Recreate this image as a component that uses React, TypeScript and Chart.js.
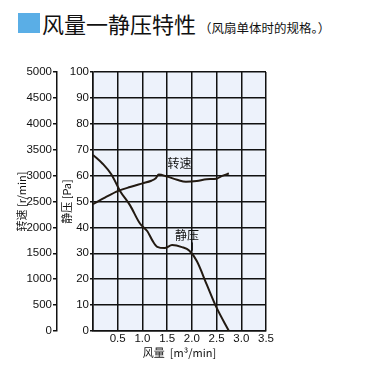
import React, { useEffect, useRef } from "react";
import { Chart, registerables } from "chart.js";

Chart.register(...registerables);

const pressureFlow = [0, 0.2, 0.37, 0.55, 0.75, 0.95, 1.1, 1.2, 1.3, 1.45, 1.6, 1.8, 1.95, 2.1, 2.3, 2.5, 2.75];
const pressurePa = [68, 64.5, 60.5, 54, 48.5, 41.5, 38.5, 35, 32.5, 32, 33.2, 32.4, 31, 27, 18, 9, 0];

const speedFlow = [0, 0.25, 0.5, 0.75, 1.0, 1.18, 1.27, 1.33, 1.5, 1.7, 1.88, 2.1, 2.3, 2.5, 2.6, 2.75];
const speedRpm = [2450, 2580, 2700, 2780, 2850, 2900, 2950, 3020, 2980, 2920, 2880, 2895, 2930, 2940, 2990, 3040];

const xTitle = "风量  [m³/min]";
const paTitle = "静压 [Pa]";
const rpmTitle = "转速 [r/min]";
const speedLabel = "转速";
const pressureLabel = "静压";

const labelFont = "'Liberation Sans Narrow', 'Arial Narrow', 'Liberation Sans', Arial, sans-serif";
const cjkFont = "'Noto Sans CJK SC', sans-serif";

export default function App() {
  const ref = useRef<HTMLCanvasElement | null>(null);

  useEffect(() => {
    if (!ref.current) return;
    const bgPlugin = {
      id: "bg",
      beforeDraw(chart: any) {
        const { ctx, chartArea: a } = chart;
        ctx.save();
        ctx.fillStyle = "#edf2fb";
        ctx.fillRect(a.left, a.top, a.right - a.left, a.bottom - a.top);
        ctx.restore();
      },
      afterDatasetsDraw(chart: any) {
        const { ctx, scales } = chart;
        const x = scales.x;
        const y = scales.y;
        ctx.save();
        ctx.fillStyle = "#111";
        ctx.font = "12px " + cjkFont;
        ctx.textAlign = "center";
        ctx.textBaseline = "middle";
        ctx.fillText(speedLabel, x.getPixelForValue(1.75), y.getPixelForValue(64.7));
        ctx.fillText(pressureLabel, x.getPixelForValue(1.9), y.getPixelForValue(36.8));
        ctx.strokeStyle = "#111";
        ctx.lineWidth = 1;
        ctx.beginPath();
        ctx.moveTo(x.getPixelForValue(2.01), y.getPixelForValue(34.2));
        ctx.lineTo(x.getPixelForValue(2.01), y.getPixelForValue(31));
        ctx.stroke();
        ctx.restore();
      },
    };

    const tickFont = { family: labelFont, size: 11.5 };

    const chart = new Chart(ref.current, {
      type: "line",
      data: {
        datasets: [
          {
            label: "静压",
            data: pressureFlow.map((f, i) => ({ x: f, y: pressurePa[i] })),
            yAxisID: "y",
            borderColor: "#221a12",
            borderWidth: 2,
            pointRadius: 0,
            tension: 0.4,
            cubicInterpolationMode: "monotone",
          },
          {
            label: "转速",
            data: speedFlow.map((f, i) => ({ x: f, y: speedRpm[i] })),
            yAxisID: "rpm",
            borderColor: "#221a12",
            borderWidth: 2,
            pointRadius: 0,
            tension: 0.4,
            cubicInterpolationMode: "monotone",
          },
        ],
      },
      options: {
        animation: false,
        responsive: false,
        maintainAspectRatio: false,
        layout: { padding: { left: 0, top: 72, right: 103, bottom: 24 } },
        plugins: { legend: { display: false }, tooltip: { enabled: false } },
        scales: {
          x: {
            type: "linear",
            min: 0,
            max: 3.5,
            afterFit: (s: any) => { s.height = 30; },
            ticks: {
              stepSize: 0.5,
              padding: 1,
              color: "#111",
              font: tickFont,
              callback: (v: any) => (Number(v) === 0 ? "" : Number(v).toFixed(1)),
              maxRotation: 0,
            },
            grid: { color: "#111", lineWidth: 1.5, drawTicks: false },
            border: { color: "#111", width: 1.5 },
            title: {
              display: true,
              text: xTitle,
              color: "#111",
              font: { family: cjkFont, size: 11 },
              padding: { top: 0, bottom: 2 },
            },
          },
          y: {
            type: "linear",
            position: "left",
            weight: 0,
            min: 0,
            max: 100,
            afterFit: (s: any) => { s.width = 36; },
            ticks: {
              stepSize: 10,
              padding: 1,
              color: "#111",
              font: tickFont,
              callback: (v: any) => String(v),
            },
            grid: { color: "#111", lineWidth: 1.5, tickLength: 3 },
            border: { color: "#111", width: 1.5 },
            title: {
              display: true,
              text: paTitle,
              color: "#111",
              font: { family: cjkFont, size: 11 },
              padding: { top: 3, bottom: 0 },
            },
          },
          rpm: {
            type: "linear",
            position: "left",
            weight: 1,
            min: 0,
            max: 5000,
            afterFit: (s: any) => { s.width = 57; },
            ticks: {
              stepSize: 500,
              padding: 1,
              color: "#111",
              font: tickFont,
              callback: (v: any) => String(v),
            },
            grid: { drawOnChartArea: false, color: "#111", lineWidth: 1.5, tickLength: 4 },
            border: { color: "#111", width: 1.5 },
            title: {
              display: true,
              text: rpmTitle,
              color: "#111",
              font: { family: cjkFont, size: 11 },
              padding: { top: 15, bottom: 0 },
            },
          },
        },
      },
      plugins: [bgPlugin],
    } as any);
    return () => chart.destroy();
  }, []);

  return (
    <div style={{ position: "fixed", left: 0, top: 0, width: 369, height: 385, background: "#fff" }}>
      <div style={{ position: "absolute", left: 18, top: 13, width: 22, height: 20, background: "#5aaee6" }} />
      <div
        style={{
          position: "absolute",
          left: 42,
          top: 7,
          fontFamily: cjkFont,
          fontSize: 22,
          color: "#111",
          whiteSpace: "nowrap",
          lineHeight: "32px",
        }}
      >
        风量一静压特性
        <span style={{ fontSize: 12.5, marginLeft: 3 }}>（风扇单体时的规格。）</span>
      </div>
      <canvas ref={ref} width={369} height={385} style={{ position: "absolute", left: 0, top: 0 }} />
    </div>
  );
}
